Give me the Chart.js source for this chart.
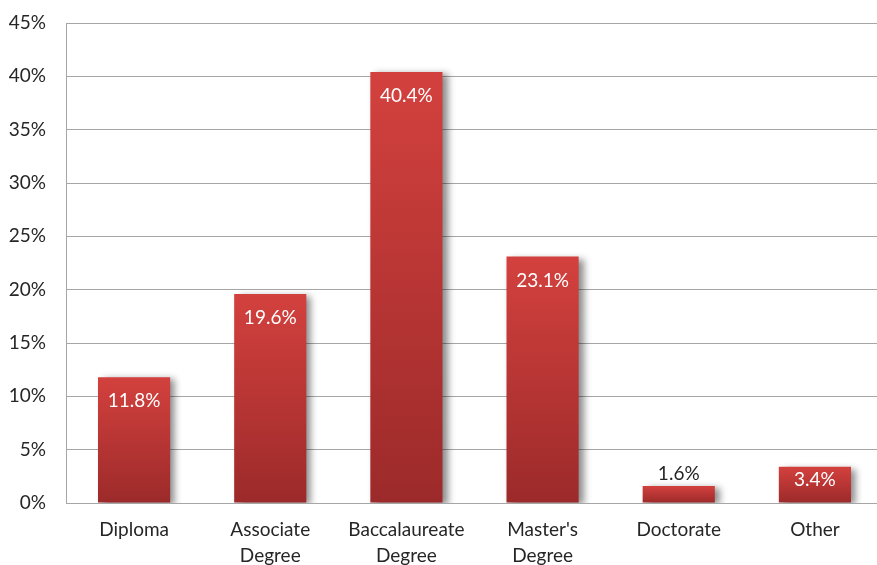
<!DOCTYPE html>
<html>
<head>
<meta charset="utf-8">
<script src="https://cdn.jsdelivr.net/npm/chart.js@4.4.1/dist/chart.umd.min.js"></script>
<style>
  html, body { margin: 0; padding: 0; background: #ffffff; overflow: hidden; }
  #wrap { position: relative; width: 883px; height: 565px; }
</style>
</head>
<body>
<div id="wrap"><canvas id="chart"></canvas></div>
<script>
// Highest level of education completed
const categories = [["Diploma"], ["Associate", "Degree"], ["Baccalaureate", "Degree"], ["Master's", "Degree"], ["Doctorate"], ["Other"]];
const shares = [11.8, 19.6, 40.4, 23.1, 1.6, 3.4];
const shareLabels = ["11.8%", "19.6%", "40.4%", "23.1%", "1.6%", "3.4%"];
const yTicks = [0, 5, 10, 15, 20, 25, 30, 35, 40, 45];

const FONT = "Lato, 'Open Sans', sans-serif";
const TEXT = "#262626";
const GRID = "#a6a6a6";

// Vertical red gradient for each bar, from its top down to the baseline
function barFill(ctx) {
  const chart = ctx.chart;
  const y = chart.scales.y;
  if (!chart.chartArea || !y || ctx.raw == null) return "#c03838";
  const top = y.getPixelForValue(ctx.raw);
  const base = y.getPixelForValue(0);
  const g = chart.ctx.createLinearGradient(0, top, 0, base);
  g.addColorStop(0, "#d3413e");
  g.addColorStop(1, "#9c2a2a");
  return g;
}

// Soft shadow falling to the lower right of each bar
const barShadow = {
  id: "barShadow",
  beforeDatasetDraw(chart) {
    const c = chart.ctx;
    c.save();
    c.shadowColor = "rgba(0,0,0,0.45)";
    c.shadowBlur = 7;
    c.shadowOffsetX = 5;
    c.shadowOffsetY = 2;
  },
  afterDatasetDraw(chart) {
    chart.ctx.restore();
  }
};

// Value labels: inside the top of the bar, or above it when the bar is short
const valueLabels = {
  id: "valueLabels",
  afterDatasetsDraw(chart) {
    const c = chart.ctx;
    const meta = chart.getDatasetMeta(0);
    c.save();
    c.font = "19px " + FONT;
    c.textAlign = "center";
    c.textBaseline = "middle";
    meta.data.forEach((bar, i) => {
      const h = bar.base - bar.y;
      let ty, col;
      if (h < 25) {
        ty = bar.y - 12;
        col = TEXT;
      } else if (h < 50) {
        ty = bar.y + h / 2 - 5;
        col = "#ffffff";
      } else {
        ty = bar.y + 24;
        col = "#ffffff";
      }
      c.fillStyle = col;
      c.fillText(shareLabels[i], bar.x, ty);
    });
    c.restore();
  }
};

new Chart(document.getElementById("chart"), {
  type: "bar",
  data: {
    labels: categories,
    datasets: [{
      data: shares,
      backgroundColor: barFill,
      borderWidth: 0,
      barPercentage: 0.53,
      categoryPercentage: 1.0
    }]
  },
  options: {
    responsive: true,
    maintainAspectRatio: false,
    animation: false,
    layout: { padding: { top: 23, left: 0, right: 0, bottom: 0 } },
    plugins: {
      legend: { display: false },
      tooltip: { enabled: false }
    },
    scales: {
      x: {
        grid: { display: false, drawTicks: false },
        border: { display: true, color: GRID, width: 1 },
        ticks: {
          color: TEXT,
          font: { family: FONT, size: 19, lineHeight: 1.35 },
          padding: 14,
          maxRotation: 0,
          autoSkip: false
        },
        afterFit(scale) { scale.height = 62; }
      },
      y: {
        min: 0,
        max: 45,
        afterBuildTicks(scale) { scale.ticks = yTicks.map(v => ({ value: v })); },
        grid: { color: GRID, lineWidth: 1, drawTicks: false },
        border: { display: true, color: GRID, width: 1 },
        ticks: {
          color: TEXT,
          font: { family: FONT, size: 19 },
          padding: 20,
          callback: v => v + "%"
        },
        afterFit(scale) {
          scale.width = 66;
          scale.paddingTop = 0;
          scale.paddingBottom = 0;
        }
      }
    }
  },
  plugins: [barShadow, valueLabels]
});
</script>
</body>
</html>
